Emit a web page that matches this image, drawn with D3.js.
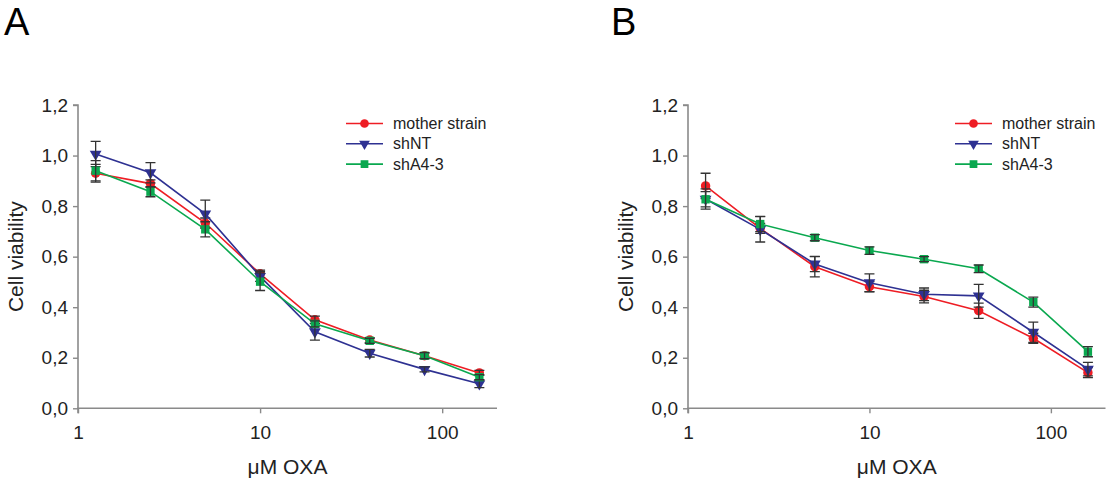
<!DOCTYPE html>
<html>
<head>
<meta charset="utf-8">
<script src="https://cdn.jsdelivr.net/npm/d3@7"></script>
<style>
  html, body { margin: 0; padding: 0; background: #fff; }
  svg { display: block; font-family: "Liberation Sans", Arial, sans-serif; }
</style>
</head>
<body>
<svg id="chart" width="1108" height="479"></svg>
<script>
// Oxaliplatin concentrations (µM)
const doses = [1.25, 2.5, 5, 10, 20, 40, 80, 160];
const seriesNames = ["mother strain", "shNT", "shA4-3"];
const panelLabels = ["A", "B"];
const yTicks = [0, 0.2, 0.4, 0.6, 0.8, 1.0, 1.2];
const xTicks = [1, 10, 100];

// Panel A: mean cell viability and error (±)
const aMother = [0.930, 0.889, 0.733, 0.532, 0.350, 0.270, 0.208, 0.140];
const aMotherErr = [0.035, 0.015, 0.020, 0.015, 0.015, 0.010, 0.010, 0.010];
const aShNT = [1.006, 0.932, 0.769, 0.522, 0.303, 0.218, 0.154, 0.097];
const aShNTErr = [0.050, 0.040, 0.055, 0.020, 0.033, 0.015, 0.010, 0.015];
const aShA43 = [0.940, 0.857, 0.708, 0.501, 0.334, 0.267, 0.208, 0.123];
const aShA43Err = [0.040, 0.020, 0.030, 0.035, 0.012, 0.010, 0.012, 0.010];

// Panel B: mean cell viability and error (±)
const bMother = [0.880, 0.712, 0.560, 0.481, 0.442, 0.386, 0.277, 0.141];
const bMotherErr = [0.050, 0.020, 0.040, 0.020, 0.025, 0.030, 0.020, 0.020];
const bShNT = [0.828, 0.708, 0.571, 0.497, 0.451, 0.445, 0.301, 0.155];
const bShNTErr = [0.040, 0.050, 0.030, 0.035, 0.025, 0.045, 0.040, 0.027];
const bShA43 = [0.827, 0.729, 0.675, 0.624, 0.590, 0.552, 0.420, 0.224];
const bShA43Err = [0.030, 0.030, 0.012, 0.015, 0.010, 0.015, 0.020, 0.020];

const colors = ["#ee1d24", "#2e3192", "#0aa84f"];
const symbols = [d3.symbolCircle, d3.symbolTriangle, d3.symbolSquare];

const panels = [
  { label: panelLabels[0], x0: 78, x1: 497, labelX: 4, legendX: 346,
    series: [[aMother, aMotherErr], [aShNT, aShNTErr], [aShA43, aShA43Err]] },
  { label: panelLabels[1], x0: 688, x1: 1105.5, labelX: 611, legendX: 955,
    series: [[bMother, bMotherErr], [bShNT, bShNTErr], [bShA43, bShA43Err]] }
];

const svg = d3.select("#chart");
const yTop = 105, yBottom = 408.3;
const axisColor = "#8a8a8a";
const fmt = v => d3.format(".1f")(v).replace(".", ",");

panels.forEach(p => {
  const g = svg.append("g");
  const x = d3.scaleLog().domain([1, 200]).range([p.x0, p.x1]);
  const y = d3.scaleLinear().domain([0, 1.2]).range([yBottom, yTop]);

  // Panel letter
  g.append("text").attr("x", p.labelX).attr("y", 35)
    .attr("font-size", 38).attr("fill", "#000").text(p.label);

  // Y axis
  const yAxis = g.append("g").attr("transform", `translate(${p.x0},0)`)
    .call(d3.axisLeft(y).tickValues(yTicks).tickFormat(fmt).tickSize(5).tickPadding(5));
  // X axis
  const xAxis = g.append("g").attr("transform", `translate(0,${yBottom})`)
    .call(d3.axisBottom(x).tickValues(xTicks).tickFormat(d3.format("d")).tickSize(5).tickPadding(12));
  [yAxis, xAxis].forEach(ax => {
    ax.select(".domain").attr("stroke", axisColor).attr("stroke-width", 1.6);
    ax.selectAll(".tick line").attr("stroke", axisColor).attr("stroke-width", 1.4);
    ax.selectAll(".tick text").attr("font-size", 19).attr("fill", "#222")
      .attr("font-family", "Liberation Sans, Arial, sans-serif");
  });
  yAxis.select(".domain").attr("d", `M-5,${yTop}H0V${yBottom}`);
  xAxis.select(".domain").attr("d", `M${p.x0},5V0H${p.x1}`);

  // Axis titles
  g.append("text")
    .attr("transform", `translate(${p.x0 - 55},${(yTop + yBottom) / 2}) rotate(-90)`)
    .attr("text-anchor", "middle").attr("font-size", 21).attr("fill", "#222")
    .text("Cell viability");
  g.append("text").attr("x", x(Math.sqrt(200))).attr("y", 474)
    .attr("text-anchor", "middle").attr("font-size", 21).attr("fill", "#222")
    .text("μM OXA");

  const line = d3.line().x(d => x(d[0])).y(d => y(d[1]));

  p.series.forEach(([vals, errs], i) => {
    const pts = doses.map((d, k) => [d, vals[k], errs[k]]);
    g.append("path").datum(pts).attr("d", line)
      .attr("fill", "none").attr("stroke", colors[i]).attr("stroke-width", 1.6);

    g.append("g").selectAll("path").data(pts).join("path")
      .attr("transform", d => `translate(${x(d[0])},${y(d[1])})` + (i === 1 ? " rotate(180)" : ""))
      .attr("d", d3.symbol().type(symbols[i]).size(i === 1 ? 60 : 70))
      .attr("fill", colors[i]);

    const eb = g.append("g").attr("stroke", "#333").attr("stroke-width", 1.3).attr("fill", "none");
    eb.selectAll("path").data(pts).join("path")
      .attr("d", d => {
        const cx = x(d[0]), t = y(d[1] + d[2]), b = y(d[1] - d[2]);
        return `M${cx - 5},${t}H${cx + 5}M${cx},${t}V${b}M${cx - 5},${b}H${cx + 5}`;
      });
  });

  // Legend
  const leg = g.append("g");
  seriesNames.forEach((name, i) => {
    const ly = 123.5 + i * 20.3;
    leg.append("line").attr("x1", p.legendX).attr("x2", p.legendX + 37)
      .attr("y1", ly).attr("y2", ly).attr("stroke", colors[i]).attr("stroke-width", 1.6);
    leg.append("path")
      .attr("transform", `translate(${p.legendX + 18.5},${ly})` + (i === 1 ? " rotate(180)" : ""))
      .attr("d", d3.symbol().type(symbols[i]).size(i === 1 ? 50 : 60))
      .attr("fill", colors[i]);
    leg.append("text").attr("x", p.legendX + 47).attr("y", ly + 5.5)
      .attr("font-size", 16).attr("fill", "#222").text(name);
  });
});
</script>
</body>
</html>
